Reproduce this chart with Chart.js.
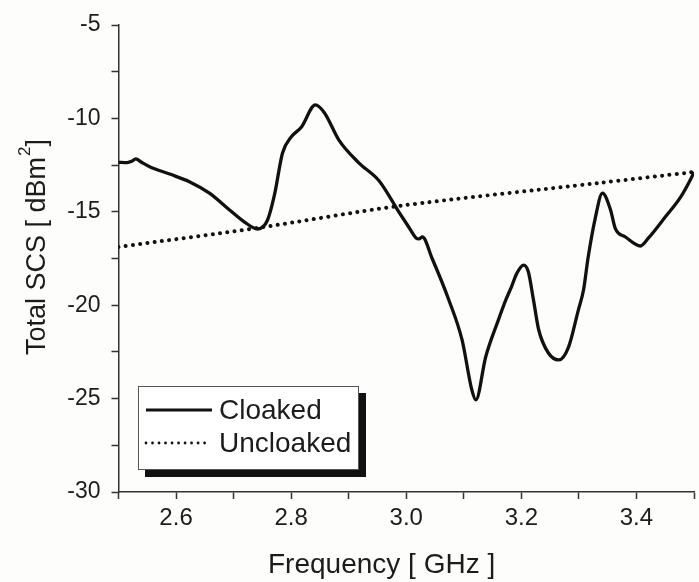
<!DOCTYPE html>
<html>
<head>
<meta charset="utf-8">
<title>Total SCS</title>
<script src="https://cdn.jsdelivr.net/npm/chart.js@4.4.0/dist/chart.umd.min.js"></script>
<style>
  html, body { margin: 0; padding: 0; background: #fdfdfb; }
  #wrap { width: 699px; height: 582px; }
</style>
</head>
<body>
<div id="wrap"><canvas id="scsChart" width="699" height="582"></canvas></div>
<script>
// --- datos ---
const cloakedFreq = [
  2.500, 2.515, 2.523, 2.530, 2.540, 2.555, 2.589, 2.624, 2.658, 2.693,
  2.719, 2.742, 2.759, 2.771, 2.785, 2.800, 2.818, 2.842, 2.858, 2.883,
  2.918, 2.953, 2.987, 3.004, 3.017, 3.022, 3.028, 3.045, 3.074,
  3.097, 3.114, 3.121, 3.138, 3.160, 3.173, 3.183, 3.192, 3.204, 3.212, 3.221,
  3.230, 3.247, 3.265, 3.282, 3.299, 3.308, 3.316, 3.328, 3.341, 3.355,
  3.363, 3.381, 3.407, 3.421, 3.450, 3.477, 3.495, 3.500
];
const cloakedSCS = [
  -12.35, -12.37, -12.30, -12.17, -12.35, -12.60, -12.98, -13.40, -14.00, -14.90,
  -15.55, -15.92, -15.44, -14.10, -11.85, -11.00, -10.46, -9.28, -9.71, -11.16,
  -12.39, -13.35, -15.00, -15.80, -16.40, -16.45, -16.35, -17.50, -19.72,
  -21.86, -24.54, -25.07, -22.77, -20.80, -19.72, -19.00, -18.30, -17.85, -18.20, -19.70,
  -21.30, -22.56, -22.93, -22.24, -20.26, -19.19, -17.45, -15.40, -14.00, -14.90,
  -15.87, -16.35, -16.83, -16.40, -15.28, -14.20, -13.20, -12.87
];
const uncloakedFreq = [2.500, 2.740, 2.987, 3.334, 3.500];
const uncloakedSCS = [-16.88, -15.87, -14.69, -13.46, -12.87];

const xMin = 2.5, xMax = 3.5, xStep = 0.1;
const yMin = -30, yMax = -5, yStep = 2.5;
const seriesLabels = ['Cloaked', 'Uncloaked'];
const xTitle = 'Frequency [ GHz ]';
const yTitle = 'Total SCS [ dBm';

const FONT = "'Liberation Sans', Arial, sans-serif";
const INK = '#1c1c1c';

function toPoints(xs, ys) {
  return xs.map((x, i) => ({ x: x, y: ys[i] }));
}

// leyenda con sombra negra, como en la figura original
const boxLegend = {
  id: 'boxLegend',
  afterDraw(chart) {
    const ctx = chart.ctx;
    const a = chart.chartArea;
    const left = a.left + 19.5, top = a.bottom - 106, w = 221, h = 84;
    ctx.save();
    ctx.fillStyle = '#111';
    ctx.fillRect(left + 7, top + 7, w, h);
    ctx.fillStyle = '#ffffff';
    ctx.fillRect(left, top, w, h);
    ctx.strokeStyle = '#555';
    ctx.lineWidth = 1;
    ctx.strokeRect(left + 0.5, top + 0.5, w - 1, h - 1);

    const rows = [24, 57];
    chart.data.datasets.forEach((ds, i) => {
      const y = top + rows[i];
      ctx.beginPath();
      ctx.strokeStyle = ds.borderColor;
      ctx.lineCap = i === 0 ? 'butt' : 'round';
      ctx.lineWidth = i === 0 ? 3.2 : 2.8;
      ctx.setLineDash(i === 0 ? [] : [0.01, 6.5]);
      ctx.moveTo(left + 8, y);
      ctx.lineTo(left + (i === 0 ? 74 : 72), y);
      ctx.stroke();
      ctx.setLineDash([]);
      ctx.fillStyle = INK;
      ctx.font = '28px ' + FONT;
      ctx.textBaseline = 'alphabetic';
      ctx.textAlign = 'left';
      ctx.fillText(ds.label, left + 81, y + 9);
    });
    ctx.restore();
  }
};

// titulos de ejes (con superindice en dBm^2)
const axisTitles = {
  id: 'axisTitles',
  afterDraw(chart) {
    const ctx = chart.ctx;
    ctx.save();
    ctx.fillStyle = INK;
    ctx.textBaseline = 'alphabetic';
    ctx.textAlign = 'left';
    ctx.font = '28px ' + FONT;
    ctx.fillText(xTitle, 268, 573);

    ctx.font = '27px ' + FONT;
    ctx.translate(45, 355);
    ctx.rotate(-Math.PI / 2);
    ctx.fillText(yTitle, 0, 0);
    let x = ctx.measureText(yTitle).width;
    ctx.font = '17px ' + FONT;
    ctx.fillText('2', x + 1, -15);
    x += ctx.measureText('2').width + 1;
    ctx.font = '27px ' + FONT;
    ctx.fillText(']', x, 0);
    ctx.restore();
  }
};

const chart = new Chart(document.getElementById('scsChart'), {
  type: 'line',
  data: {
    datasets: [{
      label: seriesLabels[0],
      data: toPoints(cloakedFreq, cloakedSCS),
      borderColor: '#111',
      borderWidth: 3.3,
      pointRadius: 0,
      cubicInterpolationMode: 'monotone',
      fill: false
    }, {
      label: seriesLabels[1],
      data: toPoints(uncloakedFreq, uncloakedSCS),
      borderColor: '#111',
      borderWidth: 4,
      borderDash: [0.01, 7.3],
      borderCapStyle: 'round',
      pointRadius: 0,
      tension: 0.3,
      fill: false
    }]
  },
  options: {
    responsive: false,
    animation: false,
    layout: { padding: { top: 25, right: 3, left: 0, bottom: 0 } },
    plugins: {
      legend: { display: false },
      tooltip: { enabled: false }
    },
    scales: {
      x: {
        type: 'linear',
        min: xMin,
        max: xMax,
        afterFit(scale) { scale.height = 90; },
        border: { display: true, color: '#333', width: 1.5 },
        grid: { drawOnChartArea: false, drawTicks: true, tickLength: 7, tickColor: '#333', tickWidth: 1.5 },
        ticks: {
          stepSize: xStep,
          autoSkip: false,
          maxRotation: 0,
          padding: 5,
          color: INK,
          font: { family: FONT, size: 24 },
          callback: function (value) {
            return Math.round(value * 10) % 2 === 0 ? value.toFixed(1) : '';
          }
        }
      },
      y: {
        type: 'linear',
        min: yMin,
        max: yMax,
        afterFit(scale) { scale.width = 118.5; },
        border: { display: true, color: '#333', width: 1.5 },
        grid: { drawOnChartArea: false, drawTicks: true, tickLength: 7, tickColor: '#333', tickWidth: 1.5 },
        ticks: {
          stepSize: yStep,
          autoSkip: false,
          padding: 11,
          color: INK,
          font: { family: FONT, size: 23 },
          callback: function (value) {
            return value % 5 === 0 ? String(value) : '';
          }
        }
      }
    }
  },
  plugins: [boxLegend, axisTitles]
});
</script>
</body>
</html>
